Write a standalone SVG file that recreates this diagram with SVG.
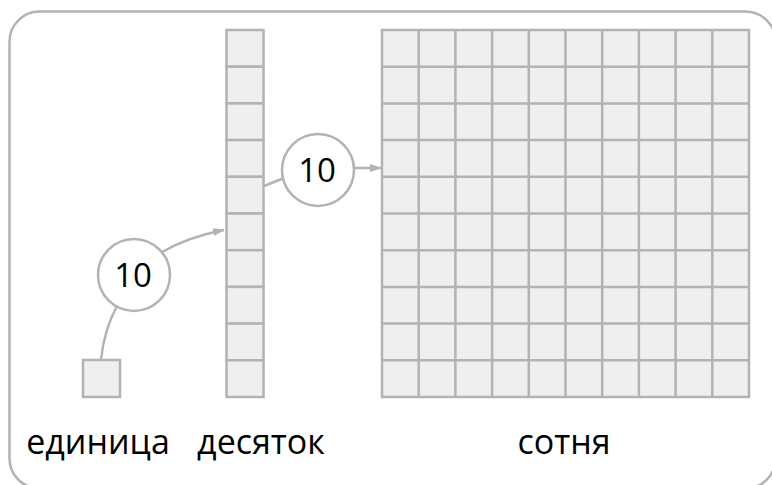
<svg xmlns="http://www.w3.org/2000/svg" width="772" height="485" viewBox="0 0 772 485">
<defs>
<style>
.cell{fill:#efefef;stroke:#b3b3b3;stroke-width:2.5}
.circ{fill:#fff;stroke:#b3b3b3;stroke-width:2.5}
.conn{fill:none;stroke:#b3b3b3;stroke-width:2.5}
.num{font-family:"Open Sans","DejaVu Sans",sans-serif;font-size:33px;fill:#000;text-anchor:middle}
.lbl{font-family:"Open Sans","DejaVu Sans",sans-serif;font-size:34px;fill:#000;text-anchor:middle}
</style>
<marker id="arr" markerWidth="12" markerHeight="10" refX="11" refY="4" orient="auto" markerUnits="userSpaceOnUse">
<path d="M0,0 L12,4 L0,8 Z" fill="#b3b3b3"/>
</marker>
</defs>
<rect x="9.5" y="11.5" width="766" height="477" rx="30" ry="30" fill="#fff" stroke="#b3b3b3" stroke-width="2.5"/>
<g id="edges">
<path class="conn" d="M101,360 Q104,330 117,306"/>
<path class="conn" d="M162,252 Q188,237 224,230" marker-end="url(#arr)"/>
<path class="conn" d="M264,186 L284,178"/>
<path class="conn" d="M354,168 L381,168" marker-end="url(#arr)"/>
</g>
<g id="unit">
<rect class="cell" x="83" y="360" width="37" height="37"/>
</g>
<g id="ten">
<rect class="cell" x="226.5" y="30" width="37" height="36.7"/>
<rect class="cell" x="226.5" y="66.7" width="37" height="36.7"/>
<rect class="cell" x="226.5" y="103.4" width="37" height="36.7"/>
<rect class="cell" x="226.5" y="140.1" width="37" height="36.7"/>
<rect class="cell" x="226.5" y="176.8" width="37" height="36.7"/>
<rect class="cell" x="226.5" y="213.5" width="37" height="36.7"/>
<rect class="cell" x="226.5" y="250.2" width="37" height="36.7"/>
<rect class="cell" x="226.5" y="286.9" width="37" height="36.7"/>
<rect class="cell" x="226.5" y="323.6" width="37" height="36.7"/>
<rect class="cell" x="226.5" y="360.3" width="37" height="36.7"/>
</g>
<g id="hundred">
<g transform="translate(382,30)">
<rect x="0" y="0" width="367" height="367" class="cell"/>
<path class="conn" d="M36.7,0V367M73.4,0V367M110.1,0V367M146.8,0V367M183.5,0V367M220.2,0V367M256.9,0V367M293.6,0V367M330.3,0V367M0,36.7H367M0,73.4H367M0,110.1H367M0,146.8H367M0,183.5H367M0,220.2H367M0,256.9H367M0,293.6H367M0,330.3H367"/>
</g>
</g>
<g id="c1">
<circle class="circ" cx="134" cy="275" r="36"/>
<text class="num" x="133" y="287">10</text>
</g>
<g id="c2">
<circle class="circ" cx="318" cy="170" r="36"/>
<text class="num" x="317" y="182">10</text>
</g>
<g id="labels">
<text class="lbl" x="98" y="454">единица</text>
<text class="lbl" x="261" y="454">десяток</text>
<text class="lbl" x="564" y="454">сотня</text>
</g>
</svg>
